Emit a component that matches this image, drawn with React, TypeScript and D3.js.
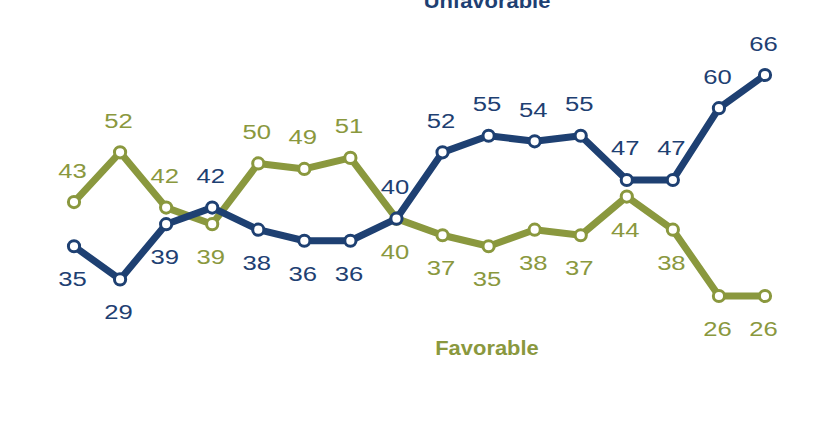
import React from "react";
import * as d3 from "d3";

const unfavorable = [35, 29, 39, 42, 38, 36, 36, 40, 52, 55, 54, 55, 47, 47, 60, 66];
const favorable = [43, 52, 42, 39, 50, 49, 51, 40, 37, 35, 38, 37, 44, 38, 26, 26];
// label placement: 1 = above point, -1 = below point
const unfavLabelSide = [-1, -1, -1, 1, -1, -1, -1, 1, 1, 1, 1, 1, 1, 1, 1, 1];
const favLabelSide = [1, 1, 1, -1, 1, 1, 1, -1, -1, -1, -1, -1, -1, -1, -1, -1];
const seriesNames = ["Unfavorable", "Favorable"];

const NAVY = "#1e4072";
const OLIVE = "#8a983e";

export default function App() {
  const W = 840, H = 425;
  const x = d3.scaleLinear().domain([0, unfavorable.length - 1]).range([74, 765]);
  const y = d3.scaleLinear().domain([26, 66]).range([296, 75]);
  const line = d3.line<number>().x((_, i) => x(i)).y((d) => y(d));
  const font = "'Liberation Sans', Arial, sans-serif";

  const series = [
    { data: favorable, side: favLabelSide, color: OLIVE },
    { data: unfavorable, side: unfavLabelSide, color: NAVY },
  ];

  return (
    <svg width={W} height={H} style={{ position: "absolute", left: 0, top: 0, background: "#fff" }}>
      {series.map((s, si) => (
        <g key={si}>
          <path d={line(s.data) || ""} fill="none" stroke={s.color} strokeWidth={7} strokeLinejoin="round" />
          {s.data.map((v, i) => (
            <circle key={i} cx={x(i)} cy={y(v)} r={5.6} fill="#fff" stroke={s.color} strokeWidth={3} />
          ))}
        </g>
      ))}
      {series.map((s, si) => (
        <g key={"l" + si}>
          {s.data.map((v, i) => {
            const lx = x(i) - 1.5;
            const ly = s.side[i] > 0 ? y(v) - 24.5 : y(v) + 40;
            return (
              <text
                key={i}
                transform={`translate(${lx},${ly}) scale(1.25,1)`}
                textAnchor="middle"
                fontFamily={font}
                fontSize={20.5}
                fill={s.color}
              >
                {v}
              </text>
            );
          })}
        </g>
      ))}
      <text transform="translate(487,8) scale(1.07,1)" textAnchor="middle" fontFamily={font} fontWeight="bold" fontSize={20.5} fill={NAVY}>
        {seriesNames[0]}
      </text>
      <text transform="translate(487,355) scale(1.07,1)" textAnchor="middle" fontFamily={font} fontWeight="bold" fontSize={20.5} fill={OLIVE}>
        {seriesNames[1]}
      </text>
    </svg>
  );
}
